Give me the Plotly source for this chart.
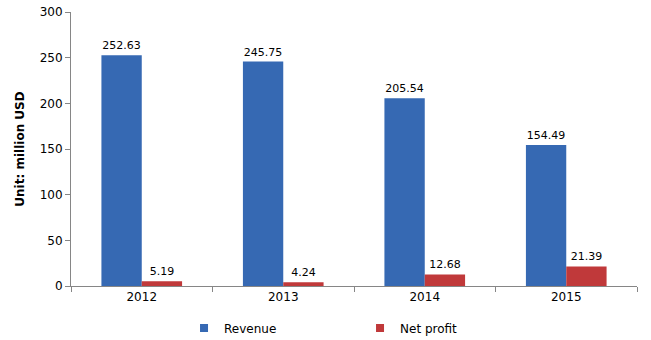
import plotly.graph_objects as go

years = ["2012", "2013", "2014", "2015"]
revenue = [252.63, 245.75, 205.54, 154.49]
net_profit = [5.19, 4.24, 12.68, 21.39]
y_ticks = [0, 50, 100, 150, 200, 250, 300]

font = "DejaVu Sans"
blue = "#3669b3"
red = "#c0393a"
fig = go.Figure()
fig.add_trace(go.Bar(x=years, y=revenue, name="Revenue", marker=dict(color=blue, line=dict(width=0)),
                     text=[f"{v:.2f}" for v in revenue], textposition="outside", cliponaxis=False,
                     textfont=dict(size=11, color="#000000", family=font), showlegend=False))
fig.add_trace(go.Bar(x=years, y=net_profit, name="Net profit", marker=dict(color=red, line=dict(width=0)),
                     text=[f"{v:.2f}" for v in net_profit], textposition="outside", cliponaxis=False,
                     textfont=dict(size=11, color="#000000", family=font), showlegend=False))
for nm, col in [("Revenue", blue), ("Net profit", red)]:
    fig.add_trace(go.Scatter(x=[None], y=[None], mode="markers", name=nm,
                             marker=dict(symbol="square", size=8, color=col)))
fig.update_layout(
    width=651, height=340,
    margin=dict(l=71, r=14, t=12, b=54, autoexpand=False),
    paper_bgcolor="white", plot_bgcolor="white",
    barmode="group", bargap=0.43, bargroupgap=0,
    font=dict(family=font, size=12, color="#000000"),
    showlegend=True,
    legend=dict(orientation="h", x=130 / 651, xanchor="left", yref="container", y=12 / 340, yanchor="middle",
                entrywidth=131, font=dict(size=12), itemwidth=30, bgcolor="rgba(0,0,0,0)"),
    yaxis=dict(range=[0, 300], tickvals=y_ticks, showgrid=False, showline=True,
               linecolor="#868686", ticks="outside", ticklen=5, tickcolor="#868686",
               zeroline=False,
               title=dict(text="<b>Unit: million USD</b>", font=dict(size=12), standoff=12)),
    xaxis=dict(showline=True, linecolor="#868686", ticks="outside", ticklen=5,
               tickcolor="#868686", tickson="boundaries", showgrid=False),
)
fig.write_html("out.html")
